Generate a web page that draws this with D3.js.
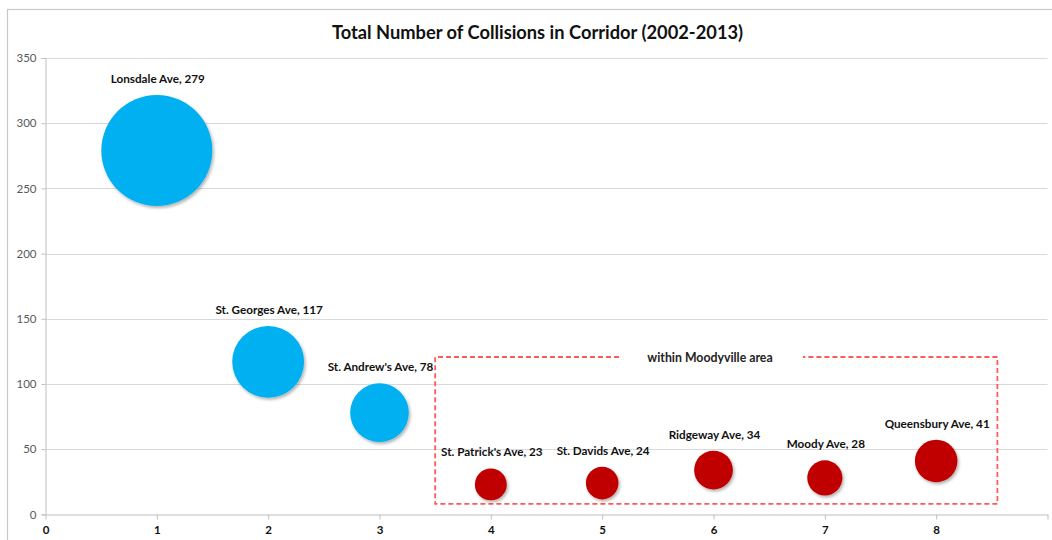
<!DOCTYPE html>
<html>
<head>
<meta charset="utf-8">
<script src="https://cdn.jsdelivr.net/npm/d3@7"></script>
<style>
  html, body { margin: 0; padding: 0; background: #fff; }
  svg { display: block; font-family: Lato, "Open Sans", sans-serif; }
</style>
</head>
<body>
<svg id="chart" width="1052" height="540"></svg>
<script>
// Corridor streets, their position on the x axis and total collisions 2002-2013
const streets = ["Lonsdale Ave", "St. Georges Ave", "St. Andrew's Ave", "St. Patrick's Ave",
                 "St. Davids Ave", "Ridgeway Ave", "Moody Ave", "Queensbury Ave"];
const positions = [1, 2, 3, 4, 5, 6, 7, 8];
const collisions = [279, 117, 78, 23, 24, 34, 28, 41];
const inMoodyville = [false, false, false, true, true, true, true, true];

const yTicks = [0, 50, 100, 150, 200, 250, 300, 350];
const xTicks = [0, 1, 2, 3, 4, 5, 6, 7, 8, 9];
const xTickLabels = ["0", "1", "2", "3", "4", "5", "6", "7", "8", ""];

const titleText = "Total Number of Collisions in Corridor (2002-2013)";
const areaLabel = "within Moodyville area";

const svg = d3.select("#chart");
const W = 1052, H = 540;
const plot = { left: 45.5, right: 1047.5, top: 58, bottom: 514.4 };

const x = d3.scaleLinear().domain([0, 9]).range([plot.left, plot.right]);
const y = d3.scaleLinear().domain([0, 350]).range([plot.bottom, plot.top]);
const r = d3.scaleSqrt().domain([0, 279]).range([0, 55.5]);

// drop shadow for the bubbles
const defs = svg.append("defs");
const f = defs.append("filter").attr("id", "shadow")
  .attr("x", "-30%").attr("y", "-30%").attr("width", "160%").attr("height", "160%");
f.append("feDropShadow").attr("dx", 1.5).attr("dy", 2).attr("stdDeviation", 1.8)
  .attr("flood-color", "#000").attr("flood-opacity", 0.3);

// outer chart border
svg.append("rect").attr("x", 7.5).attr("y", 9.5).attr("width", W).attr("height", H)
  .attr("fill", "none").attr("stroke", "#c8c8c8").attr("stroke-width", 1.2);

// title
svg.append("text").attr("x", 537.5).attr("y", 39).attr("text-anchor", "middle")
  .attr("font-weight", 700).attr("font-size", 18.3).attr("fill", "#111")
  .text(titleText);

// horizontal gridlines
svg.append("g").selectAll("line").data(yTicks.filter(d => d > 0)).join("line")
  .attr("x1", plot.left).attr("x2", plot.right)
  .attr("y1", d => Math.round(y(d)) + 0.5).attr("y2", d => Math.round(y(d)) + 0.5)
  .attr("stroke", "#d9d9d9").attr("stroke-width", 1);

// y axis
const yAxis = svg.append("g").attr("transform", `translate(${plot.left},0)`)
  .call(d3.axisLeft(y).tickValues(yTicks).tickSize(4).tickPadding(5));
yAxis.select(".domain").attr("stroke", "#bfbfbf");
yAxis.selectAll(".tick line").attr("stroke", "#bfbfbf");
yAxis.selectAll(".tick text").attr("font-size", 11.5).attr("fill", "#595959")
  .attr("font-family", "Lato, sans-serif");

// x axis
const xAxis = svg.append("g").attr("transform", `translate(0,${Math.round(plot.bottom) + 0.5})`)
  .call(d3.axisBottom(x).tickValues(xTicks).tickFormat((d, i) => xTickLabels[i])
    .tickSize(5).tickSizeOuter(0).tickPadding(6));
xAxis.select(".domain").attr("stroke", "#bfbfbf");
xAxis.selectAll(".tick line").attr("stroke", "#bfbfbf");
xAxis.selectAll(".tick text").attr("font-size", 11.5).attr("font-weight", 700)
  .attr("fill", "#111").attr("font-family", "Lato, sans-serif");

// dashed annotation box around the Moodyville streets
const box = { x0: 3.5, x1: 8.55, y0: 8, y1: 120.7 };
const bx0 = x(box.x0), bx1 = x(box.x1), by0 = y(box.y1), by1 = y(box.y0);
const gapL = 619, gapR = 803;
const dashStyle = g => g.attr("fill", "none").attr("stroke", "#ff5a5a")
  .attr("stroke-width", 1.8).attr("stroke-dasharray", "5,3");
svg.append("path")
  .attr("d", `M${gapL},${by0} L${bx0},${by0} L${bx0},${by1} L${bx1},${by1} L${bx1},${by0} L${gapR},${by0}`)
  .call(dashStyle);
svg.append("text").attr("x", (gapL + gapR) / 2 - 1).attr("y", by0 + 4.5)
  .attr("text-anchor", "middle").attr("font-size", 12.3).attr("font-weight", 700)
  .attr("fill", "#222").text(areaLabel);

// bubbles
const rows = streets.map((s, i) => ({ s, pos: positions[i], v: collisions[i], m: inMoodyville[i] }));
svg.append("g").selectAll("circle").data(rows).join("circle")
  .attr("cx", d => x(d.pos)).attr("cy", d => y(d.v)).attr("r", d => r(d.v))
  .attr("fill", d => d.m ? "#c00000" : "#00b0f0")
  .attr("filter", "url(#shadow)");

// data labels
svg.append("g").selectAll("text").data(rows).join("text")
  .attr("x", d => x(d.pos) + 1)
  .attr("y", d => y(d.v) - r(d.v) - 12)
  .attr("text-anchor", "middle").attr("font-size", 11.7).attr("font-weight", 700)
  .attr("fill", "#111")
  .text(d => `${d.s}, ${d.v}`);
</script>
</body>
</html>
